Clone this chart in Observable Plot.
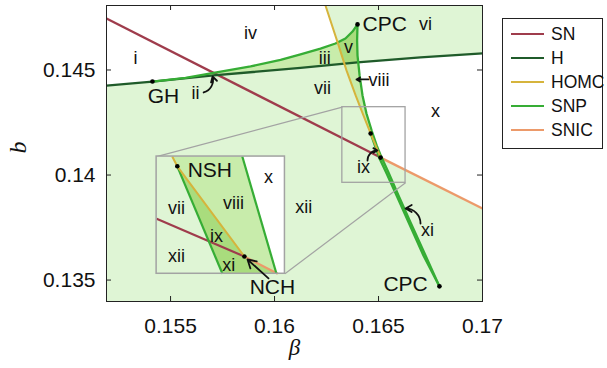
<!DOCTYPE html>
<html><head><meta charset="utf-8">
<script src="https://cdn.jsdelivr.net/npm/d3@7"></script>
<script src="https://cdn.jsdelivr.net/npm/@observablehq/plot@0.6"></script>
<style>
body{margin:0;background:#fff;}
#wrap{position:relative;width:607px;height:368px;font-family:"Liberation Sans",Arial,sans-serif;}
#chart svg{display:block;}
#legend{position:absolute;left:502px;top:18px;width:101px;height:131px;border:1px solid #222;box-sizing:border-box;background:#fff;}
.sw{position:absolute;left:8px;width:33px;height:0;border-top:2.5px solid;}
.lab{position:absolute;left:48px;font-size:17.5px;line-height:20px;color:#111;}
</style></head>
<body><div id="wrap"><div id="chart"></div><div id="legend"></div></div>
<script>
// ---- data (β, b) ----
const xDomain = [0.15192, 0.17];
const yDomain = [0.13398, 0.14807];
const xTicks = [0.155, 0.16, 0.165, 0.17];
const xTickLabels = ["0.155", "0.16", "0.165", "0.17"];
const yTicks = [0.135, 0.14, 0.145];
const yTickLabels = ["0.135", "0.14", "0.145"];

const snCurve = [[0.15192, 0.14745], [0.16510, 0.14083]];
const snicCurve = [[0.16510, 0.14083], [0.17, 0.13841]];
const hCurve = [[0.15192, 0.14426], [0.15413, 0.14445], [0.15707, 0.14474], [0.16125, 0.14510], [0.16399, 0.14536], [0.16702, 0.14560], [0.17, 0.14579]];
const snpUpper = [[0.15413, 0.14445], [0.15572, 0.14462], [0.15707, 0.14486], [0.15885, 0.14517], [0.16029, 0.14548], [0.16125, 0.14574], [0.16221, 0.14602], [0.16293, 0.14626], [0.16341, 0.14650], [0.16375, 0.14683], [0.16399, 0.14717]];
const snpRight = [[0.16399, 0.14717], [0.16397, 0.14640], [0.16399, 0.14569], [0.16409, 0.14474], [0.16423, 0.14379], [0.16442, 0.14293], [0.16467, 0.14212], [0.16491, 0.14141], [0.16515, 0.14083], [0.16548, 0.14012], [0.16596, 0.13903], [0.16654, 0.13774], [0.16726, 0.13617], [0.16793, 0.13470]];
const snpLeft = [[0.16462, 0.14198], [0.16486, 0.14131], [0.16505, 0.14079], [0.16539, 0.14007], [0.16587, 0.13903], [0.16645, 0.13774], [0.16716, 0.13617], [0.16793, 0.13470]];
const homcCurve = [[0.16245, 0.14807], [0.16308, 0.14617], [0.16346, 0.14498], [0.16390, 0.14379], [0.16428, 0.14283], [0.16462, 0.14198], [0.16486, 0.14141], [0.16510, 0.14083]];
const specialPoints = [["GH", 0.15413, 0.14445], ["CPC", 0.16399, 0.14717], ["CPC", 0.16793, 0.13470], ["NSH", 0.16462, 0.14198], ["NCH", 0.16510, 0.14083]];

// magnified window (box) and its inset curves, in the window's own (β, b)
const boxWindow = {x: [0.16326, 0.16630], y: [0.13963, 0.14323]};
const homcInset = [[0.16363, 0.14323], [0.16375, 0.14293], [0.16534, 0.14016]];
const snicInset = [[0.16534, 0.14016], [0.16613, 0.13963]];
const snInset = [[0.16326, 0.14132], [0.16534, 0.14016]];
const snpLeftInset = [[0.16375, 0.14293], [0.16482, 0.13963]];
const snpRightInset = [[0.16529, 0.14323], [0.16610, 0.13963]];
const insetPoints = [[0.16375, 0.14293], [0.16534, 0.14016]];

const regionLabels = [["i", 0.15332, 0.14555], ["iv", 0.15885, 0.14674], ["ii", 0.15620, 0.14388], ["iii", 0.16241, 0.14555], ["v", 0.16356, 0.14607], ["vi", 0.16726, 0.14717], ["vii", 0.16231, 0.14412], ["x", 0.16774, 0.14302], ["ix", 0.16428, 0.14036], ["xi", 0.16736, 0.13736], ["xii", 0.16140, 0.13845]];
const viiiLabel = [["viii", 0.16452, 0.14450]];
const pointLabels = [["GH", 0.15466, 0.14374], ["CPC", 0.16630, 0.13479], ["NCH", 0.15990, 0.13465]];
const cpcTopLabel = [["CPC", 0.16423, 0.14717]];
const insetLabels = [["NSH", 0.16452, 0.14280], ["x", 0.16591, 0.14259], ["vii", 0.16373, 0.14163], ["viii", 0.16508, 0.14179], ["ix", 0.16468, 0.14077], ["xii", 0.16373, 0.14016], ["xi", 0.16497, 0.13988]];
const arrowsStraight = [[0.16452, 0.14455, 0.16394, 0.14455], [0.15971, 0.13508, 0.15870, 0.13598]];
const arrowsCCW = [[0.15659, 0.14393, 0.15702, 0.14469], [0.16702, 0.13769, 0.16630, 0.13841]];
const arrowsCW = [[0.16447, 0.14069, 0.16495, 0.14117]];

const legendItems = ["SN", "H", "HOMC", "SNP", "SNIC"];

// ---- styles ----
const C = {SN: "#9f3c4c", H: "#1f5b2a", HOMC: "#d6b43c", SNP: "#36ad35", SNIC: "#ec9a6a",
  light: "#dff5d5", mid: "#c8ecab", dark: "#a9dc7d", box: "#a3a3a3"};
const insetPlace = {x: [0.15433, 0.16050], y: [0.13530, 0.14088]};

// ---- geometry helpers ----
function segX(p1, p2, p3, p4) {
  const d = (p2[0]-p1[0])*(p4[1]-p3[1]) - (p2[1]-p1[1])*(p4[0]-p3[0]);
  if (d === 0) return null;
  const t = ((p3[0]-p1[0])*(p4[1]-p3[1]) - (p3[1]-p1[1])*(p4[0]-p3[0]))/d;
  const u = ((p3[0]-p1[0])*(p2[1]-p1[1]) - (p3[1]-p1[1])*(p2[0]-p1[0]))/d;
  if (t >= 0 && t <= 1 && u >= 0 && u <= 1) return [p1[0]+t*(p2[0]-p1[0]), p1[1]+t*(p2[1]-p1[1])];
  return null;
}
function hit(A, B) {
  for (let i = 0; i < A.length-1; i++) for (let j = 0; j < B.length-1; j++) {
    const p = segX(A[i], A[i+1], B[j], B[j+1]);
    if (p) return {a: {i, p}, b: {i: j, p}};
  }
  return null;
}
function path(A, s, e) {
  const si = s ? s.i+1 : 1, head = s ? s.p : A[0];
  const ei = e ? e.i+1 : A.length-1, tail = e ? e.p : A[A.length-1];
  return [head, ...A.slice(si, ei), tail];
}
const vs = (A, k) => ({i: k, p: A[k]});

const hHU = hit(homcCurve, snpUpper);
const hHH = hit(homcCurve, hCurve);
const hRH = hit(snpRight, hCurve);
const hRS = hit(snpRight, snicCurve);

const whiteTop = [[xDomain[0], yDomain[1]], ...path(homcCurve, null, hHU.a), ...path(snpUpper, null, hHU.b).reverse(), hCurve[0]];
const regionIII = [...path(snpUpper, null, hHU.b), ...path(homcCurve, hHU.a, hHH.a), ...path(hCurve, vs(hCurve, 1), hHH.b).reverse()];
const regionV = [...path(snpUpper, hHU.b, null), ...path(snpRight, null, hRH.a), ...path(hCurve, hHH.b, hRH.b).reverse(), ...path(homcCurve, hHU.a, hHH.a).reverse()];
const regionVIII = [...path(homcCurve, hHH.a, null), ...path(snpRight, hRH.a, hRS.a).reverse(), ...path(hCurve, hHH.b, hRH.b).reverse()];
const whiteX = [...path(snpRight, hRH.a, hRS.a), ...path(snicCurve, hRS.b, null), ...path(hCurve, hRH.b, null).reverse()];
const regionIXXI = [...snpLeft, ...path(snpRight, hRS.a, null).reverse(), ...path(homcCurve, vs(homcCurve, 5), null).reverse()];

// inset mapping from window coordinates to its place on the chart
const sx = d3.scaleLinear(boxWindow.x, insetPlace.x), sy = d3.scaleLinear(boxWindow.y, insetPlace.y);
const toInset = p => [sx(p[0]), sy(p[1])];
const mapI = A => A.map(toInset);
const insetWhite = mapI([snpRightInset[0], [boxWindow.x[1], boxWindow.y[1]], [boxWindow.x[1], boxWindow.y[0]], snpRightInset[1]]);
const insetMid = mapI([homcInset[0], snpRightInset[0], snpRightInset[1], snicInset[1], homcInset[2], homcInset[1]]);
const insetDark = mapI([homcInset[1], homcInset[2], snicInset[1], snpLeftInset[1]]);
const connectors = [
  [boxWindow.x[0], boxWindow.y[1], insetPlace.x[0], insetPlace.y[1]],
  [boxWindow.x[1], boxWindow.y[0], insetPlace.x[1], insetPlace.y[0]]
];

const F = "Liberation Sans, Arial, sans-serif";
const lineOpt = (stroke, w = 2.3) => ({x: d => d[0], y: d => d[1], stroke, strokeWidth: w, strokeLinecap: "butt", strokeLinejoin: "round"});
const fillOpt = fill => ({x: d => d[0], y: d => d[1], fill, stroke: "none"});
const txt = (size, extra = {}) => ({x: d => d[1], y: d => d[2], text: d => d[0], fontSize: size, fontFamily: F, fill: "#111", ...extra});
const arrowOpt = bend => ({x1: d => d[0], y1: d => d[1], x2: d => d[2], y2: d => d[3], bend, stroke: "#111", strokeWidth: 1.8, headLength: 8});

const chart = Plot.plot({
  width: 607, height: 368,
  marginLeft: 106, marginRight: 125, marginTop: 5, marginBottom: 67,
  style: {fontFamily: F, fontSize: "21px", color: "#111", background: "transparent"},
  x: {domain: xDomain, ticks: xTicks, tickSize: 0, tickPadding: 17, tickFormat: d => xTickLabels[xTicks.indexOf(d)], label: null},
  y: {domain: yDomain, ticks: yTicks, tickSize: 0, tickPadding: 11, tickFormat: d => yTickLabels[yTicks.indexOf(d)], label: null},
  marks: [
    Plot.frame({fill: C.light, stroke: "none"}),
    Plot.line(whiteTop, fillOpt("#ffffff")),
    Plot.line(regionIII, fillOpt(C.mid)),
    Plot.line(regionV, fillOpt(C.dark)),
    Plot.line(regionVIII, fillOpt(C.mid)),
    Plot.line(whiteX, fillOpt("#ffffff")),
    Plot.line(regionIXXI, fillOpt(C.dark)),
    Plot.line(snCurve, lineOpt(C.SN)),
    Plot.line(snicCurve, lineOpt(C.SNIC)),
    Plot.line(hCurve, lineOpt(C.H)),
    Plot.line(snpUpper, lineOpt(C.SNP)),
    Plot.line(snpRight, lineOpt(C.SNP)),
    Plot.line(snpLeft, lineOpt(C.SNP)),
    Plot.line(homcCurve, lineOpt(C.HOMC, 2)),
    Plot.dot(specialPoints, {x: d => d[1], y: d => d[2], r: 2.3, fill: "#000", stroke: "none"}),
    // zoom box and connectors
    Plot.rect([boxWindow], {x1: d => d.x[0], x2: d => d.x[1], y1: d => d.y[0], y2: d => d.y[1], fill: "none", stroke: C.box, strokeWidth: 1.3}),
    Plot.link(connectors, {x1: d => d[0], y1: d => d[1], x2: d => d[2], y2: d => d[3], stroke: C.box, strokeWidth: 1.2}),
    // inset
    Plot.rect([insetPlace], {x1: d => d.x[0], x2: d => d.x[1], y1: d => d.y[0], y2: d => d.y[1], fill: C.light, stroke: "none"}),
    Plot.line(insetWhite, fillOpt("#ffffff")),
    Plot.line(insetMid, fillOpt(C.mid)),
    Plot.line(insetDark, fillOpt(C.dark)),
    Plot.line(mapI(snInset), lineOpt(C.SN, 2.2)),
    Plot.line(mapI(snicInset), lineOpt(C.SNIC, 2.2)),
    Plot.line(mapI(snpLeftInset), lineOpt(C.SNP, 2.2)),
    Plot.line(mapI(snpRightInset), lineOpt(C.SNP, 2.2)),
    Plot.line(mapI(homcInset), lineOpt(C.HOMC, 2)),
    Plot.dot(mapI(insetPoints), {x: d => d[0], y: d => d[1], r: 2.3, fill: "#000"}),
    Plot.rect([insetPlace], {x1: d => d.x[0], x2: d => d.x[1], y1: d => d.y[0], y2: d => d.y[1], fill: "none", stroke: C.box, strokeWidth: 1.5}),
    Plot.text(insetLabels.map(d => [d[0], ...toInset([d[1], d[2]])]), txt(18, {fontSize: d => d[0] === "NSH" ? 21 : 18})),
    // labels
    Plot.text(regionLabels, txt(18)),
    Plot.text(viiiLabel, txt(18, {textAnchor: "start"})),
    Plot.text(pointLabels, txt(21)),
    Plot.text(cpcTopLabel, txt(21, {textAnchor: "start"})),
    Plot.arrow(arrowsStraight, arrowOpt(0)),
    Plot.arrow(arrowsCCW, arrowOpt(-45)),
    Plot.arrow(arrowsCW, arrowOpt(45)),
    // inward ticks on all sides
    Plot.ruleX(xTicks, {x: d => d, y1: yDomain[0], y2: yDomain[0], insetBottom: 5, stroke: "#222"}),
    Plot.ruleX(xTicks, {x: d => d, y1: yDomain[1], y2: yDomain[1], insetTop: 5, stroke: "#222"}),
    Plot.ruleY(yTicks, {y: d => d, x1: xDomain[0], x2: xDomain[0], insetLeft: 5, stroke: "#222"}),
    Plot.ruleY(yTicks, {y: d => d, x1: xDomain[1], x2: xDomain[1], insetRight: 5, stroke: "#222"}),
    Plot.frame({stroke: "#222", strokeWidth: 1}),
    // axis titles
    Plot.text(["β"], {frameAnchor: "bottom", dy: 53, text: d => d, fontSize: 23, fontStyle: "italic", fontFamily: "Liberation Serif, DejaVu Serif, serif", fill: "#111"}),
    Plot.text(["b"], {frameAnchor: "left", dx: -88, rotate: -90, text: d => d, fontSize: 24, fontStyle: "italic", fontFamily: "Liberation Serif, DejaVu Serif, serif", fill: "#111"})
  ]
});
document.getElementById("chart").appendChild(chart);

// legend
const legend = document.getElementById("legend");
legendItems.forEach((name, i) => {
  const cy = 15 + i * 24;
  const sw = document.createElement("div");
  sw.className = "sw"; sw.style.top = (cy - 1) + "px"; sw.style.borderTopColor = C[name];
  const lb = document.createElement("div");
  lb.className = "lab"; lb.style.top = (cy - 10) + "px"; lb.textContent = name;
  legend.appendChild(sw); legend.appendChild(lb);
});
</script></body></html>
